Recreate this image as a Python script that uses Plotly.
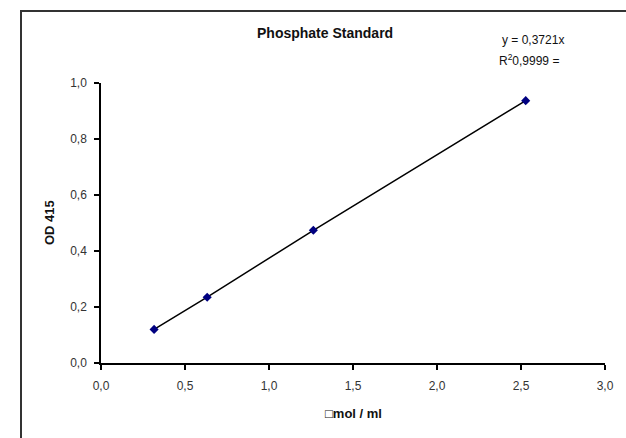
import plotly.graph_objects as go

# Data
conc_umol_ml = [0.316, 0.632, 1.264, 2.528]
od415 = [0.120, 0.235, 0.474, 0.937]

x_ticks = [0.0, 0.5, 1.0, 1.5, 2.0, 2.5, 3.0]
y_ticks = [0.0, 0.2, 0.4, 0.6, 0.8, 1.0]

title_text = "Phosphate Standard"
eq_text = "y = 0,3721x"
r2_text = "R<sup>2</sup>0,9999 ="
x_title = "\u25a1mol / ml"
y_title = "OD 415"

FONT = "Liberation Sans, Arial, sans-serif"

# plot-area geometry in pixels
W, H = 626, 438
L, R, T, B = 101, 21, 83, 75
pw, ph = W - L - R, H - T - B


def px(xp):
    return (xp - L) / pw


def py(yp):
    return (H - B - yp) / ph


fig = go.Figure()
fig.add_trace(go.Scatter(
    x=conc_umol_ml, y=od415, mode="lines+markers",
    line=dict(color="black", width=1.5),
    marker=dict(symbol="diamond", color="#000080", size=7,
                line=dict(color="#000080", width=0)),
    showlegend=False, hoverinfo="x+y",
))

axis_common = dict(
    showgrid=False, zeroline=False, showline=True, linecolor="black",
    linewidth=1.5, ticks="outside", ticklen=5, tickwidth=1.5,
    tickcolor="black", tickformat=".1f",
    tickfont=dict(family=FONT, size=12, color="#333333"),
)
fig.update_xaxes(range=[0, 3], tickvals=x_ticks, ticklabelstandoff=6,
                 **axis_common)
fig.update_yaxes(range=[0, 1], tickvals=y_ticks, ticklabelstandoff=5,
                 **axis_common)

annos = [
    dict(text="<b>%s</b>" % title_text, x=px(325), y=py(33),
         xanchor="center", yanchor="middle",
         font=dict(family=FONT, size=14, color="#111111")),
    dict(text=eq_text, x=px(500), y=py(40), xanchor="left", yanchor="middle",
         font=dict(family=FONT, size=12, color="#111111")),
    dict(text=r2_text, x=px(497), y=py(60), xanchor="left", yanchor="middle",
         font=dict(family=FONT, size=12, color="#111111")),
    dict(text="<b>%s</b>" % x_title, x=px(353), y=py(413),
         xanchor="center", yanchor="middle",
         font=dict(family=FONT, size=13, color="#111111")),
    dict(text="<b>%s</b>" % y_title, x=px(49), y=py(223), textangle=-90,
         xanchor="center", yanchor="middle",
         font=dict(family=FONT, size=13, color="#111111")),
]
for a in annos:
    a.update(xref="paper", yref="paper", showarrow=False)

fig.update_layout(
    width=W, height=H,
    margin=dict(l=L, r=R, t=T, b=B),
    paper_bgcolor="white", plot_bgcolor="white",
    separators=",.",
    annotations=annos,
    shapes=[dict(type="rect", xref="paper", yref="paper",
                 x0=px(21), y0=-0.6, x1=1.3, y1=py(11),
                 line=dict(color="#333333", width=2), layer="below")],
)

fig.write_html("out.html")
